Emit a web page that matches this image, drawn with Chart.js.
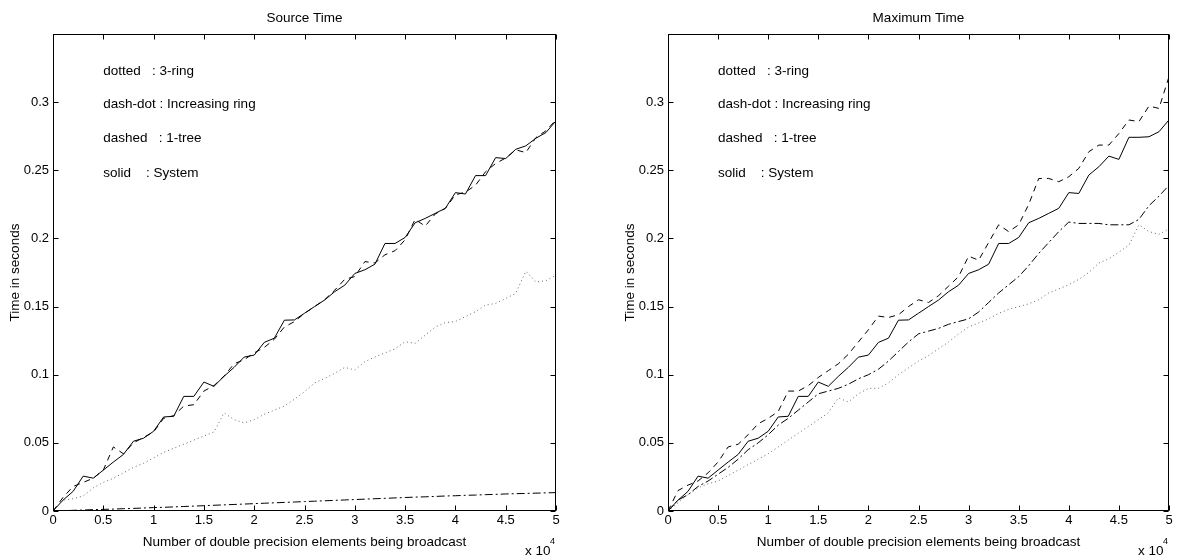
<!DOCTYPE html>
<html>
<head>
<meta charset="utf-8">
<script src="https://cdn.jsdelivr.net/npm/chart.js@4/dist/chart.umd.min.js"></script>
<style>
html, body { margin: 0; padding: 0; background: #fff; }
#wrap { position: relative; width: 1184px; height: 559px; }
canvas { position: absolute; top: 0; }
</style>
</head>
<body>
<div id="wrap">
  <canvas id="srcChart" width="592" height="559" style="left:0"></canvas>
  <canvas id="maxChart" width="592" height="559" style="left:592px"></canvas>
</div>
<script>
// message size, in units of 10^4 double precision elements
const xVals = [0, 0.1, 0.2, 0.3, 0.4, 0.5, 0.6, 0.7, 0.8, 0.9,
  1.0, 1.1, 1.2, 1.3, 1.4, 1.5, 1.6, 1.7, 1.8, 1.9,
  2.0, 2.1, 2.2, 2.3, 2.4, 2.5, 2.6, 2.7, 2.8, 2.9,
  3.0, 3.1, 3.2, 3.3, 3.4, 3.5, 3.6, 3.7, 3.8, 3.9,
  4.0, 4.1, 4.2, 4.3, 4.4, 4.5, 4.6, 4.7, 4.8, 4.9, 5.0];

const xTicks = [0, 0.5, 1, 1.5, 2, 2.5, 3, 3.5, 4, 4.5, 5];
const xTickLabels = ['0', '0.5', '1', '1.5', '2', '2.5', '3', '3.5', '4', '4.5', '5'];
const yTicks = [0, 0.05, 0.1, 0.15, 0.2, 0.25, 0.3];
const yTickLabels = ['0', '0.05', '0.1', '0.15', '0.2', '0.25', '0.3'];

const legendLines = ['dotted   : 3-ring', 'dash-dot : Increasing ring', 'dashed   : 1-tree', 'solid    : System'];

// Source Time
const srcRing3 = [0, 0.008, 0.009, 0.011, 0.017, 0.021, 0.024, 0.028, 0.032, 0.035,
  0.039, 0.043, 0.046, 0.049, 0.052, 0.055, 0.058, 0.072, 0.067, 0.0646,
  0.067, 0.071, 0.074, 0.077, 0.082, 0.0875, 0.094, 0.0973, 0.101, 0.1054,
  0.1035, 0.1096, 0.113, 0.116, 0.119, 0.1242, 0.123, 0.129, 0.135, 0.1382,
  0.139, 0.1426, 0.1462, 0.1511, 0.1523, 0.156, 0.1597, 0.176, 0.168, 0.169, 0.173];
const srcIncRing = [0, 0.0002, 0.0005, 0.0007, 0.001, 0.0012, 0.0014, 0.0017, 0.0019, 0.0022,
  0.0025, 0.0027, 0.003, 0.0033, 0.0036, 0.0039, 0.0042, 0.0045, 0.0048, 0.0051,
  0.0054, 0.0057, 0.006, 0.0063, 0.0066, 0.0069, 0.0072, 0.0075, 0.0078, 0.0081,
  0.0084, 0.0087, 0.009, 0.0093, 0.0096, 0.0099, 0.0102, 0.0104, 0.0107, 0.011,
  0.0112, 0.0115, 0.0117, 0.012, 0.0122, 0.0125, 0.0127, 0.0129, 0.0131, 0.0133, 0.0135];
const srcTree1 = [0, 0.010, 0.018, 0.021, 0.024, 0.030, 0.047, 0.042, 0.050, 0.054,
  0.058, 0.068, 0.070, 0.077, 0.078, 0.088, 0.092, 0.099, 0.108, 0.111,
  0.116, 0.120, 0.126, 0.135, 0.139, 0.145, 0.150, 0.155, 0.162, 0.170,
  0.172, 0.183, 0.182, 0.188, 0.191, 0.199, 0.214, 0.209, 0.218, 0.222,
  0.232, 0.234, 0.239, 0.249, 0.255, 0.259, 0.265, 0.263, 0.274, 0.279, 0.287];
const srcSystem = [0, 0.008, 0.0144, 0.0256, 0.0241, 0.030, 0.0359, 0.0415, 0.0512, 0.0534,
  0.0585, 0.069, 0.0695, 0.0841, 0.0841, 0.0946, 0.0915, 0.0988, 0.1054, 0.1129,
  0.1144, 0.1237, 0.1268, 0.140, 0.1402, 0.1451, 0.150, 0.1548, 0.1609, 0.1657,
  0.1743, 0.177, 0.1811, 0.1963, 0.1963, 0.2007, 0.2115, 0.2147, 0.2184, 0.2221,
  0.2336, 0.2326, 0.2461, 0.2461, 0.2593, 0.2586, 0.2654, 0.2679, 0.2735, 0.2777, 0.2863];

// Maximum Time
const maxRing3 = [0, 0.006, 0.012, 0.017, 0.020, 0.022, 0.026, 0.030, 0.034, 0.038,
  0.042, 0.047, 0.052, 0.057, 0.062, 0.067, 0.072, 0.083, 0.080, 0.086,
  0.090, 0.090, 0.094, 0.100, 0.105, 0.110, 0.114, 0.119, 0.124, 0.130,
  0.135, 0.138, 0.141, 0.145, 0.148, 0.150, 0.152, 0.155, 0.160, 0.163,
  0.166, 0.170, 0.175, 0.182, 0.185, 0.190, 0.195, 0.210, 0.205, 0.203, 0.207];
const maxIncRing = [0, 0.008, 0.012, 0.018, 0.022, 0.027, 0.032, 0.038, 0.045, 0.050,
  0.056, 0.063, 0.068, 0.074, 0.080, 0.086, 0.088, 0.090, 0.093, 0.097,
  0.100, 0.104, 0.110, 0.117, 0.124, 0.130, 0.132, 0.134, 0.137, 0.139,
  0.141, 0.146, 0.153, 0.160, 0.166, 0.172, 0.180, 0.189, 0.197, 0.205,
  0.212, 0.211, 0.211, 0.211, 0.210, 0.210, 0.210, 0.214, 0.224, 0.231, 0.239];
const maxTree1 = [0, 0.015, 0.019, 0.022, 0.028, 0.036, 0.047, 0.049, 0.056, 0.064,
  0.068, 0.073, 0.088, 0.088, 0.092, 0.098, 0.103, 0.108, 0.115, 0.124,
  0.133, 0.143, 0.142, 0.144, 0.150, 0.155, 0.153, 0.158, 0.165, 0.172,
  0.187, 0.184, 0.197, 0.210, 0.205, 0.210, 0.225, 0.244, 0.244, 0.2416,
  0.2453, 0.2514, 0.2636, 0.2685, 0.2685, 0.277, 0.2869, 0.2857, 0.2971, 0.2954, 0.3187];
const maxSystem = [0, 0.008, 0.0144, 0.0256, 0.0241, 0.030, 0.0359, 0.0415, 0.0512, 0.0534,
  0.0585, 0.069, 0.0695, 0.0841, 0.0841, 0.0946, 0.0915, 0.0988, 0.1054, 0.1129,
  0.1144, 0.1237, 0.1268, 0.140, 0.1402, 0.1451, 0.150, 0.1548, 0.1609, 0.1657,
  0.1743, 0.177, 0.1811, 0.1963, 0.1963, 0.2007, 0.2115, 0.2147, 0.2184, 0.2221,
  0.2336, 0.233, 0.2465, 0.2526, 0.2604, 0.258, 0.2742, 0.2742, 0.2746, 0.2783, 0.287];

const FONT = "'Liberation Sans', Arial, Helvetica, sans-serif";
const TEXT_FONT = '13.5px ' + FONT;
Chart.defaults.font.family = FONT;
Chart.defaults.font.size = 13;
Chart.defaults.color = '#000';

// MATLAB-ish frame, inward ticks and text labels
const matlabAxes = {
  id: 'matlabAxes',
  afterDraw(chart, args, opts) {
    const { ctx, chartArea: a, scales: { x, y } } = chart;
    const L = Math.round(a.left) + 0.5, R = Math.round(a.right) - 0.5;
    const T = Math.round(a.top) + 0.5, B = Math.round(a.bottom) - 0.5;
    ctx.save();
    ctx.strokeStyle = '#000';
    ctx.lineWidth = 1;
    ctx.strokeRect(L, T, R - L, B - T);
    ctx.beginPath();
    x.ticks.forEach(t => {
      const px = Math.round(x.getPixelForValue(t.value)) + 0.5;
      ctx.moveTo(px, B); ctx.lineTo(px, B - 5);
      ctx.moveTo(px, T); ctx.lineTo(px, T + 5);
    });
    y.ticks.forEach(t => {
      const py = Math.round(y.getPixelForValue(t.value)) + 0.5;
      ctx.moveTo(L, py); ctx.lineTo(L + 5, py);
      ctx.moveTo(R, py); ctx.lineTo(R - 5, py);
    });
    ctx.stroke();

    ctx.fillStyle = '#000';
    ctx.font = TEXT_FONT;
    ctx.textBaseline = 'middle';
    const cx = (a.left + a.right) / 2;
    ctx.textAlign = 'center';
    ctx.fillText(opts.title, cx, 18);
    ctx.fillText('Number of double precision elements being broadcast', cx, 542);

    // exponent label
    ctx.textAlign = 'left';
    ctx.fillText('x 10', a.right - 31, 551);
    ctx.font = '9px ' + FONT;
    ctx.fillText('4', a.right - 6, 542);
    ctx.font = TEXT_FONT;

    // legend written as text inside the axes
    legendLines.forEach((s, i) => {
      ctx.fillText(s, x.getPixelForValue(opts.noteX), y.getPixelForValue(opts.noteY[i]));
    });

    ctx.translate(opts.ylabelX, (a.top + a.bottom) / 2);
    ctx.rotate(-Math.PI / 2);
    ctx.textAlign = 'center';
    ctx.fillText('Time in seconds', 0, 0);
    ctx.restore();
  }
};

function lineSet(label, data, color, dash) {
  return { label, data, borderColor: color, borderWidth: 1, borderDash: dash,
    pointRadius: 0, fill: false, tension: 0 };
}

function makeChart(id, title, sets, yWidth, padRight, ylabelX) {
  return new Chart(document.getElementById(id), {
    type: 'line',
    data: {
      labels: xVals,
      datasets: [
        lineSet('3-ring', sets[0], '#666', [1, 3]),
        lineSet('Increasing ring', sets[1], '#000', [8, 3, 2, 3]),
        lineSet('1-tree', sets[2], '#000', [6, 5]),
        lineSet('System', sets[3], '#000', [])
      ]
    },
    options: {
      responsive: false,
      devicePixelRatio: 1,
      animation: false,
      layout: { padding: { top: 34, right: padRight, left: 0, bottom: 0 } },
      scales: {
        x: {
          type: 'linear', min: 0, max: 5,
          afterBuildTicks: s => { s.ticks = xTicks.map(v => ({ value: v })); },
          afterFit: s => { s.height = 48; },
          grid: { display: false, drawTicks: false },
          border: { display: false },
          ticks: { callback: (v, i) => xTickLabels[i], maxRotation: 0, autoSkip: false, padding: 2 }
        },
        y: {
          type: 'linear', min: 0, max: 0.35,
          afterBuildTicks: s => { s.ticks = yTicks.map(v => ({ value: v })); },
          afterFit: s => { s.width = yWidth; },
          grid: { display: false, drawTicks: false },
          border: { display: false },
          ticks: { callback: (v, i) => yTickLabels[i], autoSkip: false, padding: 4 }
        }
      },
      plugins: {
        legend: { display: false },
        tooltip: { enabled: false },
        matlabAxes: { title, noteX: 0.5, noteY: [0.3225, 0.2985, 0.2735, 0.248], ylabelX }
      }
    },
    plugins: [matlabAxes]
  });
}

makeChart('srcChart', 'Source Time', [srcRing3, srcIncRing, srcTree1, srcSystem], 53, 36, 15);
makeChart('maxChart', 'Maximum Time', [maxRing3, maxIncRing, maxTree1, maxSystem], 76, 15, 38);
</script>
</body>
</html>
